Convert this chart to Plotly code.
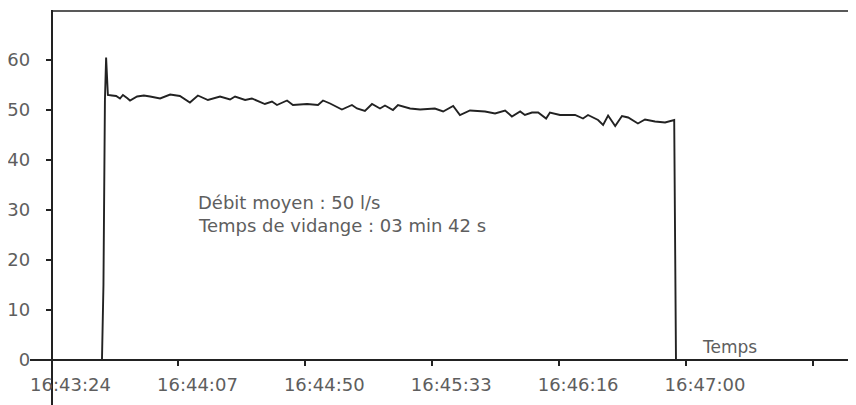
import plotly.graph_objects as go

# elapsed seconds since 16:43:24
t_s = [0.0, 17.1, 17.6, 18.1, 18.5, 18.8, 19.1, 20.5, 21.9, 23.2, 24.2, 25.6, 26.6, 29.0, 31.3,
       33.4, 36.8, 40.2, 43.5, 46.9, 49.6, 53.0, 57.1, 60.5, 62.2, 65.6, 67.9, 72.3, 74.7,
       76.4, 79.8, 81.8, 86.6, 90.3, 92.0, 94.4, 98.4, 101.8, 103.5, 106.2, 108.6, 111.3,
       113.0, 115.7, 117.4, 121.5, 124.9, 129.9, 132.7, 136.1, 138.4, 141.8, 146.9, 150.3,
       153.7, 156.0, 158.8, 160.4, 162.8, 164.9, 167.6, 168.9, 172.3, 177.4, 180.1, 181.8,
       185.2, 186.9, 188.6, 191.0, 193.3, 195.4, 198.7, 201.1, 204.5, 207.9, 210.3, 211.0,
       211.6, 264.8]
debit = [0.0, 0.0, 15.0, 52.0, 60.5, 56.0, 53.0, 52.9, 52.8, 52.3, 53.0, 52.4, 51.9, 52.7, 52.9,
         52.7, 52.3, 53.1, 52.8, 51.5, 52.9, 52.0, 52.7, 52.1, 52.7, 52.0, 52.3, 51.2, 51.7,
         51.0, 51.9, 51.0, 51.2, 51.0, 51.9, 51.3, 50.1, 51.0, 50.3, 49.8, 51.2, 50.3,
         50.9, 50.0, 51.0, 50.3, 50.1, 50.3, 49.7, 50.8, 49.0, 49.9, 49.7, 49.3,
         49.9, 48.7, 49.7, 49.0, 49.5, 49.5, 48.3, 49.5, 49.0, 49.0, 48.3, 49.0,
         48.0, 47.0, 48.9, 46.8, 48.8, 48.5, 47.3, 48.1, 47.7, 47.5, 47.9, 48.0,
         0.0, 0.0]

tick_s = [0, 43, 86, 129, 172, 215, 258]
tick_labels = ["16:43:24", "16:44:07", "16:44:50", "16:45:33", "16:46:16", "16:47:00", ""]
y_ticks = [0, 10, 20, 30, 40, 50, 60]

note_lines = ["Débit moyen : 50 l/s", "Temps de vidange : 03 min 42 s"]
x_title = "Temps"

FONT = "DejaVu Sans"
GREY = "#5e5e5e"
INK = "#222222"

fig = go.Figure()
fig.add_trace(go.Scatter(x=t_s, y=debit, mode="lines",
                         line=dict(color=INK, width=1.9), hoverinfo="skip"))

fig.update_layout(
    width=848, height=397, autosize=False,
    margin=dict(l=22, r=0, t=2, b=0, pad=0, autoexpand=False),
    paper_bgcolor="white", plot_bgcolor="white",
    showlegend=False,
    font=dict(family=FONT, color=GREY),
    xaxis=dict(range=[-7.29, 272.6], tickmode="array", tickvals=tick_s, ticktext=tick_labels,
               showgrid=False, zeroline=False, showline=True, linecolor=INK, linewidth=1.5,
               ticks="outside", ticklen=5, tickwidth=1.5, tickcolor=INK, automargin=False,
               anchor="free", position=45 / 395, ticklabelshift=19, ticklabelstandoff=4,
               tickfont=dict(family=FONT, size=18, color=GREY)),
    yaxis=dict(range=[-9, 70], tickmode="array", tickvals=y_ticks,
               showgrid=False, zeroline=False, showline=True, linecolor=INK, linewidth=1.5,
               ticks="outside", ticklen=5, tickwidth=1.5, tickcolor=INK, automargin=False,
               anchor="free", position=21.5 / 826, ticklabelstandoff=12,
               tickfont=dict(family=FONT, size=18, color=GREY)),
    shapes=[dict(type="line", xref="x", yref="y", x0=0, x1=272.6, y0=69.8, y1=69.8,
                 line=dict(color=INK, width=1.5))],
)

fig.add_annotation(x=49.0, y=31.6, xref="x", yref="y", text=note_lines[0], showarrow=False,
                   xanchor="left", yanchor="middle", font=dict(family=FONT, size=18, color=GREY))
fig.add_annotation(x=49.0, y=26.9, xref="x", yref="y", text=note_lines[1], showarrow=False,
                   xanchor="left", yanchor="middle", font=dict(family=FONT, size=18, color=GREY))
fig.add_annotation(x=229.9, y=2.6, xref="x", yref="y", text=x_title, showarrow=False,
                   xanchor="center", yanchor="middle", font=dict(family=FONT, size=17, color=GREY))

fig.write_html("out.html")
